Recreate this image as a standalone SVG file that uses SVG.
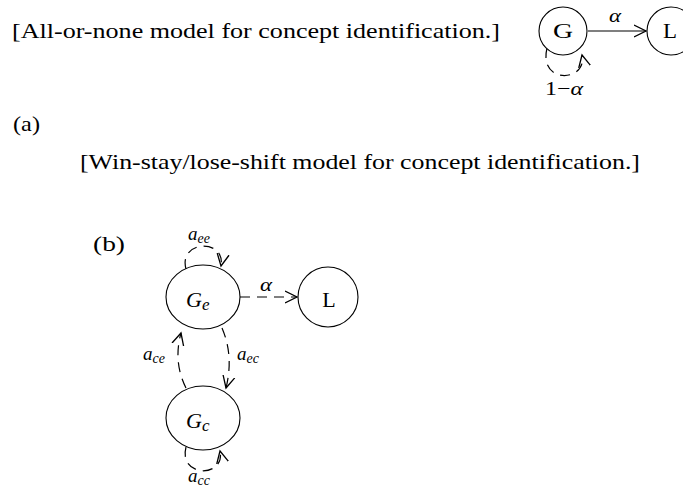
<svg xmlns="http://www.w3.org/2000/svg" width="683" height="489" viewBox="0 0 683 489">
<style>
  text { font-family: "Liberation Serif", "Times New Roman", serif; fill: #000; }
  .title { font-size: 21px; }
  .lbl { font-size: 22px; }
  .it { font-style: italic; }
  .sm { font-size: 19px; }
  .sub { font-size: 14px; }
  .node { fill: #fff; stroke: #000; stroke-width: 1.1; }
  .edge { fill: none; stroke: #000; stroke-width: 1.2; }
  .dash { stroke-dasharray: 10 7; }
</style>
<defs>
  <marker id="arr" markerUnits="userSpaceOnUse" markerWidth="14" markerHeight="14" refX="12" refY="6" orient="auto" viewBox="0 0 14 12">
    <path d="M0,0 L12,6 L0,12" fill="none" stroke="#000" stroke-width="1.3" stroke-dasharray="none"/>
  </marker>
</defs>
<rect width="683" height="489" fill="#fff"/>

<text class="title" x="12" y="38" textLength="488" lengthAdjust="spacingAndGlyphs">[All-or-none model for concept identification.]</text>
<text class="title" x="13" y="131" textLength="27" lengthAdjust="spacingAndGlyphs">(a)</text>
<text class="title" x="80" y="169" textLength="560" lengthAdjust="spacingAndGlyphs">[Win-stay/lose-shift model for concept identification.]</text>
<text class="title" x="93" y="251" textLength="32" lengthAdjust="spacingAndGlyphs">(b)</text>

<g id="connectors">
  <!-- top diagram -->
  <path class="edge" d="M588,31 L646,31" marker-end="url(#arr)"/>
  <text class="sm it" x="609" y="22" textLength="12" lengthAdjust="spacingAndGlyphs">α</text>
  <path class="edge dash" d="M547,48 C538,85 588,82 582,55" marker-end="url(#arr)"/>
  <text class="sm" x="545" y="95" font-size="17" textLength="38" lengthAdjust="spacingAndGlyphs">1−<tspan class="it">α</tspan></text>

  <!-- bottom diagram -->
  <path class="edge dash" d="M240,297 L297,297" marker-end="url(#arr)"/>
  <text class="sm it" x="260" y="291" textLength="12" lengthAdjust="spacingAndGlyphs">α</text>

  <path class="edge dash" d="M186,269 C178,240 226,238 221,266" marker-end="url(#arr)"/>
  <text class="sm it" x="188" y="240">a<tspan class="sub" dy="3">ee</tspan></text>

  <path class="edge dash" d="M222,328 Q234,356 226,388" marker-end="url(#arr)"/>
  <text class="sm it" x="237" y="360">a<tspan class="sub" dy="3">ec</tspan></text>

  <path class="edge dash" d="M186,388 Q173,362 181,333" marker-end="url(#arr)"/>
  <text class="sm it" x="143" y="360">a<tspan class="sub" dy="3">ce</tspan></text>

  <path class="edge dash" d="M186,447 C178,478 226,478 220,451" marker-end="url(#arr)"/>
  <text class="sm it" x="188" y="482">a<tspan class="sub" dy="3">cc</tspan></text>
</g>

<g id="node-G">
  <circle class="node" cx="563" cy="31" r="24"/>
  <text class="lbl" x="553" y="38" font-size="21" textLength="20" lengthAdjust="spacingAndGlyphs">G</text>
</g>
<g id="node-L-top">
  <circle class="node" cx="671" cy="31" r="24"/>
  <text class="lbl" x="663" y="38" textLength="14" lengthAdjust="spacingAndGlyphs">L</text>
</g>

<g id="node-Ge">
  <ellipse class="node" cx="203" cy="297" rx="37" ry="32"/>
  <text class="lbl it" x="186" y="307" font-size="25">G<tspan font-size="17" dy="3">e</tspan></text>
</g>
<g id="node-L">
  <circle class="node" cx="328" cy="297" r="30"/>
  <text class="lbl" x="329" y="307" font-size="23" text-anchor="middle">L</text>
</g>
<g id="node-Gc">
  <ellipse class="node" cx="203" cy="418" rx="37" ry="32"/>
  <text class="lbl it" x="186" y="428" font-size="25">G<tspan font-size="17" dy="3">c</tspan></text>
</g>
</svg>
